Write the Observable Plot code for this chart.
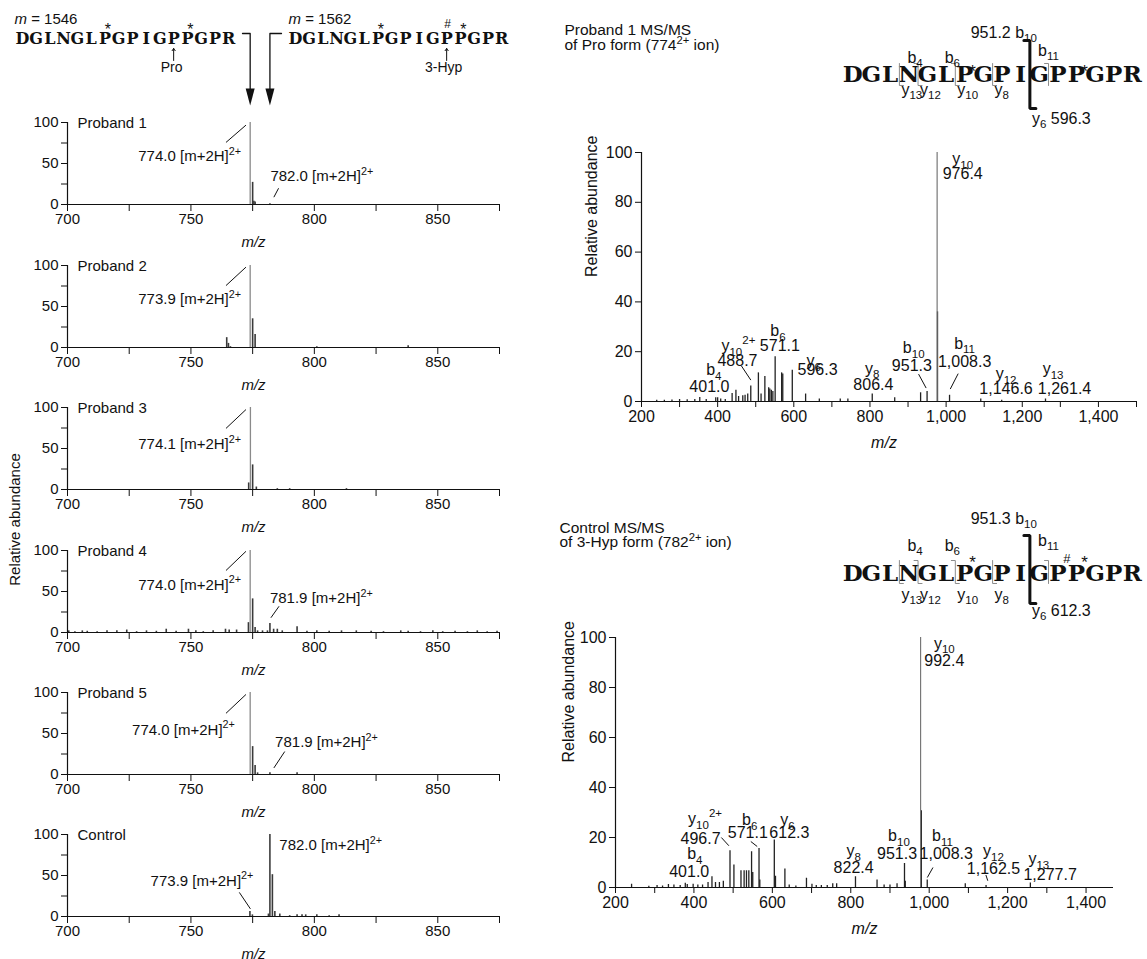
<!DOCTYPE html>
<html><head><meta charset="utf-8">
<script src="https://cdn.jsdelivr.net/npm/d3@7"></script>
<script src="https://cdn.jsdelivr.net/npm/@observablehq/plot@0.6"></script>
<style>
html,body{margin:0;padding:0;background:#fff;}
#fig{position:relative;width:1147px;height:959px;overflow:hidden;font-family:"Liberation Sans",Arial,sans-serif;}
#fig svg{position:absolute;overflow:visible;}
</style></head><body><div id="fig"></div>
<script>
// ================= DATA =================
const peptide = "DGLNGLPGPIGPPGPR".split("");
const hypSites = [6, 12];          // "*" hydroxyproline
const hyp3Site = 11;               // "#" 3-hydroxyproline / Pro site
const massPro = "1546", massHyp = "1562";
const siteLabels = ["Pro", "3-Hyp"];

const leftXTicks = [700, 725, 750, 775, 800, 825, 850, 875];
const leftXLabels = [700, 750, 800, 850];
const leftYTicks = [0, 25, 50, 75, 100];
const leftYLabels = [0, 50, 100];
const panelNames = ["Proband 1", "Proband 2", "Proband 3", "Proband 4", "Proband 5", "Control"];

const proband1Mz  = [774.0, 775.0, 775.5, 776.0, 782.0];
const proband1Int = [100, 27, 4, 3, 1];
const proband2Mz  = [764.5, 765.2, 766.0, 774.0, 775.0, 776.0, 801.0, 838.0];
const proband2Int = [12, 5, 1, 100, 35, 16, 1, 2];
const proband3Mz  = [773.4, 774.1, 775.0, 776.5, 785.0, 790.0, 813.0];
const proband3Int = [8, 100, 30, 3, 1, 1, 1];
const proband4Mz  = [700.5,703,706,708,712,716,720,724,728,732,736,740,744,749,752,755,759,764,765.5,768.5,773.3,774.0,775.0,776.0,777,779,781,782.0,783.5,785,787,793,797,801,806,811,817,823,828,835,838,843,848,852,857,862,866,870,874];
const proband4Int = [2,1,2,1.5,1,2,2,3,1,2,1.5,4,1.5,4,2,1,2,4,3,3,12,100,41,6,2,2,2,11,4,4,2,7,1.5,2,1.5,2,2,1.5,1,2,1.5,1,2,1,1.5,1,2,1,1.5];
const proband5Mz  = [774.0, 775.0, 776.0, 777.0, 782.0, 793.0];
const proband5Int = [100, 34, 11, 2, 2, 2];
const controlMz   = [773.9, 774.9, 781.4, 782.0, 783.0, 784.0, 786.0, 790.0, 793.0, 795.0, 796.5, 801.0, 806.0, 810.0];
const controlInt  = [6, 2, 3, 100, 51, 6, 3, 1, 2, 2, 2, 2, 1, 2];
const leftMz  = [proband1Mz, proband2Mz, proband3Mz, proband4Mz, proband5Mz, controlMz];
const leftInt = [proband1Int, proband2Int, proband3Int, proband4Int, proband5Int, controlInt];

// precursor labels: text, anchor point (m/z, %), leader line (m/z,% -> m/z,%)
const precursorLabels = [
  [{t:"774.0 [m+2H]^{2+}", x:770.3, y:59, a:"end", l:[764.2,75.7,772.3,96.8]},
   {t:"782.0 [m+2H]^{2+}", x:782.2, y:34, a:"start", l:[783.6,8.9,785.5,19.8]}],
  [{t:"773.9 [m+2H]^{2+}", x:770.3, y:59, a:"end", l:[764.2,75.5,772.3,98]}],
  [{t:"774.1 [m+2H]^{2+}", x:770.3, y:55, a:"end", l:[764.2,74.5,772.3,97.5]}],
  [{t:"774.0 [m+2H]^{2+}", x:770.3, y:58, a:"end", l:[764.2,75.6,772.3,99]},
   {t:"781.9 [m+2H]^{2+}", x:782.0, y:42, a:"start", l:[782.4,18,785.7,32]}],
  [{t:"774.0 [m+2H]^{2+}", x:767.8, y:54.4, a:"end", l:[764.2,74.6,772.3,97.6]},
   {t:"781.9 [m+2H]^{2+}", x:784.1, y:39.5, a:"start", l:[783.6,8,788,28]}],
  [{t:"782.0 [m+2H]^{2+}", x:785.8, y:86.7, a:"start"},
   {t:"773.9 [m+2H]^{2+}", x:775.3, y:43.5, a:"end", l:[769.6,29.4,774.1,9.3]}]
];

// MS/MS spectra
const ms1Mz  = [240,260,280,300,320,340,353,370,395,400,408,420,438,448,455,466,472,479,487,507,514,524,534,537,541,545,551,568,571,596,631,667,722,742,806,865,933,950,976.4,977.4,1009,1091,1146,1261];
const ms1Int = [0.5,0.5,0.6,0.8,0.7,0.8,1.6,0.8,1.5,1.5,1,0.8,3.2,4.5,2,2.3,2.5,3,6.2,11.5,3,10,5.5,5,4.5,4,18,11.5,11,12.6,3,1,1,1,3,1.5,3.5,4,100,36,2.5,1,0.5,1];
const ms2Mz  = [241,285,306,320,335,349,365,378,383,398,410,422,436,446,455,465,475,492,502,520,528,534,540,547,550,566,568,605,608,632,643,660,687,701,712,725,740,754,764,812,867,885,900,918,937,939,978,980,995,1092,1145,1258];
const ms2Int = [1.3,0.5,0.8,0.6,1.2,1,0.8,1.7,1.2,1.3,1,1,2,4.3,2,2,2.5,14.7,9,6.7,6.7,6.7,6.7,14.3,6,15.6,3,19,4.5,7.4,1,0.6,3.7,1.3,0.8,0.8,0.8,1.5,1.5,4.3,3,1,1,1.5,9.6,2.5,100,30.7,3,1.5,0.8,1.8];

const ms1Labels = [
  {t:"y_{10}",x:1043.6,y:97.3},{t:"976.4",x:1043.6,y:91.3},
  {t:"b_{6}",x:558.4,y:28.4},{t:"571.1",x:563.4,y:22.4},
  {t:"y_{10}^{2+}",x:454.5,y:22.4},{t:"488.7",x:452,y:16.3},
  {t:"b_{4}",x:390,y:12.6},{t:"401.0",x:378.2,y:5.9},
  {t:"y_{6}",x:652.5,y:16.3},{t:"596.3",x:662.4,y:12.6},
  {t:"y_{8}",x:806,y:13.3},{t:"806.4",x:809,y:6.6},
  {t:"b_{10}",x:914.9,y:21.4},{t:"951.3",x:910,y:14.3},
  {t:"b_{11}",x:1048.5,y:23.3},{t:"1,008.3",x:1048.5,y:16},
  {t:"y_{12}",x:1157.4,y:11},{t:"1,146.6",x:1157.4,y:5},
  {t:"y_{13}",x:1281,y:13},{t:"1,261.4",x:1311,y:5}
];
const ms1Leaders = [[462.4,14.3,487.1,8.6],[927.7,11,947.5,5.4],[1031.7,11.2,1010.9,5]];
const ms2Labels = [
  {t:"y_{10}",x:1038.6,y:97.6},{t:"992.4",x:1038.6,y:90.6},
  {t:"y_{10}^{2+}",x:428.4,y:27.4},{t:"496.7",x:416.9,y:19.4},
  {t:"b_{4}",x:402.4,y:13.4},{t:"401.0",x:388,y:6.4},
  {t:"b_{6}",x:542.2,y:27},{t:"571.1",x:537.3,y:21.7},
  {t:"y_{6}",x:638.6,y:27},{t:"612.3",x:643.4,y:22},
  {t:"y_{8}",x:807.2,y:14.7},{t:"822.4",x:807.2,y:8},
  {t:"b_{10}",x:922.9,y:20.7},{t:"951.3",x:918,y:13.4},
  {t:"b_{11}",x:1033.7,y:20.7},{t:"1,008.3",x:1043.4,y:13.4},
  {t:"y_{12}",x:1163.9,y:14.7},{t:"1,162.5",x:1163.9,y:7.4},
  {t:"y_{13}",x:1279.5,y:11.4},{t:"1,277.7",x:1308.4,y:5}
];
const ms2Leaders = [[469.9,20,489.2,16.7],[545.1,18.4,561.4,16.4],[1009.6,8,995.2,4],[1144.6,5,1149.4,2.7]];

const ms1Title = ["Proband 1 MS/MS", "of Pro form (774^{2+} ion)"];
const ms2Title = ["Control MS/MS", "of 3-Hyp form (782^{2+} ion)"];
const bIons = [{ion:"b_{4}", after:3}, {ion:"b_{6}", after:5}, {ion:"b_{11}", after:10}];
const yIons = [{ion:"y_{13}", after:2}, {ion:"y_{12}", after:3}, {ion:"y_{10}", after:5}, {ion:"y_{8}", after:7}];
const keyCut = 9;     // b10 / y6 cleavage
const ms1KeyIons = ["951.2 b_{10}", "y_{6} 596.3"];
const ms2KeyIons = ["951.3 b_{10}", "y_{6} 612.3"];

// ================= LAYOUT =================
const FONT = "'Liberation Sans', Arial, Helvetica, sans-serif";
const SERIF = "'DejaVu Serif', 'Liberation Serif', serif";
const baseStyle = {fontFamily: FONT, fontSize: "15px", color: "#111", background: "transparent", overflow: "visible"};
const rightStyle = {...baseStyle, fontSize: "16px"};
const fig = document.getElementById("fig");
function place(svg, left, top) { svg.style.left = left + "px"; svg.style.top = top + "px"; fig.appendChild(svg); return svg; }
const zero = () => 0;

const leftTops = [122, 265, 407, 549.5, 691.5, 833.5];
function leftPanel(k) {
  const peaks = leftMz[k].map((m, i) => ({mz: m, int: leftInt[k][i]}));
  const labs = precursorLabels[k];
  const mainColor = k === 5 ? "#111" : "#8a8a8a";
  return Plot.plot({
    width: 520, height: 157, marginLeft: 67, marginRight: 21, marginTop: 30, marginBottom: 45,
    style: baseStyle,
    x: {domain: [700, 875], ticks: leftXTicks, tickFormat: d => leftXLabels.includes(d) ? String(d) : "", tickSize: 7, tickPadding: 2, label: null},
    y: {domain: [0, 100], ticks: leftYTicks, tickFormat: d => leftYLabels.includes(d) ? String(d) : "", tickSize: 6, tickPadding: 3, label: null},
    marks: [
      Plot.ruleX(peaks.filter(d => d.int < 100), {x: "mz", y1: zero, y2: "int", stroke: "#3a3a3a", strokeWidth: 1.6}),
      Plot.ruleX(peaks.filter(d => d.int >= 100), {x: "mz", y1: zero, y2: "int", stroke: mainColor, strokeWidth: 1.3}),
      Plot.ruleX([700], {stroke: "#111", strokeWidth: 1.2}),
      Plot.ruleY([0], {stroke: "#111", strokeWidth: 1.2}),
      Plot.text([panelNames[k]], {text: d => d, frameAnchor: "top-left", dx: 10, dy: 1, lineAnchor: "middle", textAnchor: "start"}),
      Plot.text(["m/z"], {text: d => d, frameAnchor: "bottom", dx: -30, dy: 38, lineAnchor: "middle", fontStyle: "italic"}),
      Plot.text(labs.filter(d => d.a === "end"), {x: "x", y: "y", text: "t", textAnchor: "end", lineAnchor: "middle"}),
      Plot.text(labs.filter(d => d.a === "start"), {x: "x", y: "y", text: "t", textAnchor: "start", lineAnchor: "middle"}),
      Plot.link(labs.filter(d => d.l), {x1: d => d.l[0], y1: d => d.l[1], x2: d => d.l[2], y2: d => d.l[3], stroke: "#111", strokeWidth: 1})
    ]
  });
}

function rightPanel(mz, ints, labels, leaders, o) {
  const peaks = mz.map((m, i) => ({mz: m, int: ints[i]}));
  return Plot.plot({
    width: 592, height: o.height, marginLeft: o.mL, marginRight: o.mR, marginTop: 30, marginBottom: 50,
    style: rightStyle,
    x: {domain: o.domain, ticks: o.ticks, tickFormat: d => d % 200 === 0 && d <= 1400 ? d3.format(",")(d) : "", tickSize: 6, tickPadding: 3, label: null},
    y: {domain: [0, 100], ticks: [0, 20, 40, 60, 80, 100], tickSize: 6, tickPadding: 3, label: null},
    marks: [
      Plot.ruleX(peaks.filter(d => d.int < 100), {x: "mz", y1: zero, y2: "int", stroke: "#222", strokeWidth: 1.3}),
      Plot.ruleX(peaks.filter(d => d.int >= 100), {x: "mz", y1: zero, y2: "int", stroke: "#777", strokeWidth: 1.2}),
      Plot.ruleX([o.domain[0]], {stroke: "#111", strokeWidth: 1.2}),
      Plot.ruleY([0], {stroke: "#111", strokeWidth: 1.2}),
      Plot.text(labels, {x: "x", y: "y", text: "t", textAnchor: "middle", lineAnchor: "middle"}),
      Plot.link(leaders, {x1: d => d[0], y1: d => d[1], x2: d => d[2], y2: d => d[3], stroke: "#111", strokeWidth: 1}),
      Plot.text(["Relative abundance"], {text: d => d, frameAnchor: "left", dx: o.yLabDx, rotate: -90, lineAnchor: "middle"}),
      Plot.text(["m/z"], {text: d => d, frameAnchor: "bottom", dx: o.mzDx, dy: 41, lineAnchor: "middle", fontStyle: "italic"})
    ]
  });
}

// ---- draw panels ----
const leftPlots = panelNames.map((_, k) => place(leftPanel(k), 0, leftTops[k] - 30));
const r1 = place(rightPanel(ms1Mz, ms1Int, ms1Labels, ms1Leaders,
  {height: 329, mL: 86, mR: 11, domain: [200, 1500], ticks: d3.range(200, 1501, 100), yLabDx: -50, mzDx: -5}), 555, 122);
const r2 = place(rightPanel(ms2Mz, ms2Int, ms2Labels, ms2Leaders,
  {height: 330, mL: 60, mR: 34, domain: [200, 1470], ticks: d3.range(200, 1401, 100), yLabDx: -47, mzDx: 0}), 555, 607);

// ---- overlay: peptide headers, arrows, shared axis label ----
const p1x = leftPlots[0].scale("x");
const xOf = v => p1x.apply ? p1x.apply(v) : 67 + (v - 700) * (432 / 175);
const SEQL = {x0Pro: 21.9, x0Hyp: 294.9, step: 13.75, base: 43};
const SEQR = {x0: 852.3, step: 18.64};
const hdr = [
  {title: ms1Title, tx: 564, key: ms1KeyIons, hash: false, t1: 30, t2: 45, b10: 32, bLab: 57, b11: 50, mod: 76, hashY: 0, seq: 81, yLab: 89, y6: 118, brTop: 40, brBot: 108, smTop: 63, smBot: 85},
  {title: ms2Title, tx: 559, key: ms2KeyIons, hash: true, t1: 528, t2: 542, b10: 518, bLab: 545, b11: 540, mod: 567, hashY: 557, seq: 580, yLab: 594, y6: 610, brTop: 535, brBot: 603, smTop: 560, smBot: 583}
];

const ov = [];
// left header
const seqPro = peptide.map((c, i) => ({c, x: SEQL.x0Pro + i * SEQL.step, y: SEQL.base}));
const seqHyp = peptide.map((c, i) => ({c, x: SEQL.x0Hyp + i * SEQL.step, y: SEQL.base}));
ov.push(Plot.text([{t: "~{m} = " + massPro, x: 14, y: 19}, {t: "~{m} = " + massHyp, x: 288, y: 19}], {x: "x", y: "y", text: "t", textAnchor: "start", lineAnchor: "middle"}));
ov.push(Plot.text(seqPro.concat(seqHyp), {x: "x", y: "y", text: "c", fontFamily: SERIF, fontWeight: "bold", fontSize: 16, lineAnchor: "bottom", ariaLabel: "seqL"}));
const starsL = hypSites.map(i => ({x: SEQL.x0Pro + i * SEQL.step + 3})).concat(hypSites.map(i => ({x: SEQL.x0Hyp + i * SEQL.step + 3})));
ov.push(Plot.text(starsL, {x: "x", y: () => 34, text: () => "*", fontSize: 16, lineAnchor: "bottom"}));
ov.push(Plot.text([{x: SEQL.x0Hyp + hyp3Site * SEQL.step + 1}], {x: "x", y: () => 27, text: () => "#", fontSize: 12, lineAnchor: "bottom"}));
const siteX = [SEQL.x0Pro + hyp3Site * SEQL.step, SEQL.x0Hyp + hyp3Site * SEQL.step];
ov.push(Plot.arrow(siteX.map(x => ({x})), {x1: "x", x2: "x", y1: () => 60, y2: () => 48, headLength: 4, headAngle: 70, strokeWidth: 1, stroke: "#111"}));
ov.push(Plot.text(siteLabels.map((t, i) => ({t, x: siteX[i] - (i ? 3 : 2)})), {x: "x", y: () => 67, text: "t", lineAnchor: "middle", fontSize: 14}));
// big arrows to precursor peaks
const a1 = xOf(774.0), a2 = xOf(782.0);
const arrowPaths = [
  {z: 1, x: 242, y: 33}, {z: 1, x: a1, y: 33}, {z: 1, x: a1, y: 90},
  {z: 2, x: 281, y: 33}, {z: 2, x: a2, y: 33}, {z: 2, x: a2, y: 90}
];
ov.push(Plot.line(arrowPaths, {x: "x", y: "y", z: "z", stroke: "#111", strokeWidth: 1.3}));
const heads = [a1, a2].flatMap((x, k) => [{z: k, x: x - 4.5, y: 88}, {z: k, x: x + 4.5, y: 88}, {z: k, x, y: 105}]);
ov.push(Plot.line(heads, {x: "x", y: "y", z: "z", fill: "#111", stroke: "none"}));
// shared left y label
ov.push(Plot.text([{t: "Relative abundance", x: 15, y: 519}], {x: "x", y: "y", text: "t", rotate: -90, lineAnchor: "middle"}));

// right headers
const cutX = c => SEQR.x0 + (c + 0.5) * SEQR.step;
for (const h of hdr) {
  ov.push(Plot.text([{t: h.title[0], y: h.t1}, {t: h.title[1], y: h.t2}], {x: () => h.tx, y: "y", text: "t", textAnchor: "start", lineAnchor: "middle", fontSize: 15.5}));
  ov.push(Plot.text(peptide.map((c, i) => ({c, x: SEQR.x0 + i * SEQR.step})), {x: "x", y: () => h.seq, text: "c", fontFamily: SERIF, fontWeight: "bold", fontSize: 23, lineAnchor: "bottom", ariaLabel: "seqR"}));
  ov.push(Plot.text(hypSites.map(i => ({x: SEQR.x0 + i * SEQR.step + 8})), {x: "x", y: () => h.mod, text: () => "*", fontSize: 17, lineAnchor: "bottom"}));
  if (h.hash) ov.push(Plot.text([{x: SEQR.x0 + hyp3Site * SEQR.step + 9}], {x: "x", y: () => h.hashY + 5, text: () => "#", fontSize: 13, lineAnchor: "bottom"}));
  // small brackets
  const cuts = Array.from(new Set([...bIons.map(d => d.after), ...yIons.map(d => d.after)]));
  const pts = [];
  for (const c of cuts) {
    const x = cutX(c);
    if (bIons.some(d => d.after === c)) pts.push({z: c, x: x - 4, y: h.smTop});
    pts.push({z: c, x, y: h.smTop}, {z: c, x, y: h.smBot});
    if (yIons.some(d => d.after === c)) pts.push({z: c, x: x + 4, y: h.smBot});
  }
  ov.push(Plot.line(pts, {x: "x", y: "y", z: "z", stroke: "#8c8c8c", strokeWidth: 1}));
  const kx = cutX(keyCut);
  ov.push(Plot.line([{x: kx - 6, y: h.brTop}, {x: kx, y: h.brTop}, {x: kx, y: h.brBot}, {x: kx + 6, y: h.brBot}], {x: "x", y: "y", stroke: "#111", strokeWidth: 3, strokeLinejoin: "miter"}));
  ov.push(Plot.text(bIons.filter(d => d.after !== 10).map(d => ({t: d.ion, x: cutX(d.after) - 3})), {x: "x", y: () => h.bLab, text: "t", lineAnchor: "middle", fontSize: 16}));
  ov.push(Plot.text(bIons.filter(d => d.after === 10).map(d => ({t: d.ion, x: cutX(d.after)})), {x: "x", y: () => h.b11, text: "t", lineAnchor: "middle", fontSize: 16}));
  ov.push(Plot.text(yIons.map(d => ({t: d.ion, x: cutX(d.after) + 2})), {x: "x", y: () => h.yLab, text: "t", textAnchor: "start", lineAnchor: "middle", fontSize: 16}));
  ov.push(Plot.text([{t: h.key[0], x: kx + 7}], {x: "x", y: () => h.b10, text: "t", textAnchor: "end", lineAnchor: "middle", fontSize: 16}));
  ov.push(Plot.text([{t: h.key[1], x: kx + 2}], {x: "x", y: () => h.y6, text: "t", textAnchor: "start", lineAnchor: "middle", fontSize: 16}));
}

const overlay = Plot.plot({
  width: 1147, height: 959, margin: 0,
  x: {type: "identity", axis: null}, y: {type: "identity", axis: null},
  style: {...baseStyle, pointerEvents: "none"},
  marks: ov
});
place(overlay, 0, 0);

// ---- rich text: _{sub}, ^{sup}, ~{italic} ----
function richify(root) {
  const NS = "http://www.w3.org/2000/svg";
  root.querySelectorAll("text").forEach(t => {
    const s = t.textContent;
    if (!/[_^~]\{/.test(s) || t.querySelector("tspan")) return;
    const fs = parseFloat(getComputedStyle(t).fontSize) || 15;
    const parts = s.split(/([_^~]\{[^}]*\})/).filter(p => p);
    t.textContent = "";
    let shift = 0;
    for (const p of parts) {
      const ts = document.createElementNS(NS, "tspan");
      let target = 0, txt = p, small = false, ital = false;
      if (p.length > 2 && p[1] === "{" && "_^~".includes(p[0])) {
        txt = p.slice(2, -1);
        if (p[0] === "_") { target = 0.3 * fs; small = true; }
        else if (p[0] === "^") { target = -0.42 * fs; small = true; }
        else ital = true;
      }
      const d = target - shift; shift = target;
      if (d) ts.setAttribute("dy", d.toFixed(2));
      if (small) ts.setAttribute("font-size", (0.72 * fs).toFixed(1));
      if (ital) ts.setAttribute("font-style", "italic");
      ts.textContent = txt;
      t.appendChild(ts);
    }
  });
}
richify(fig);
// squeeze the serif peptide letters to a monospace-like width
function squeeze(label, maxW) {
  fig.querySelectorAll(`g[aria-label="${label}"] text`).forEach(t => {
    const w = t.getComputedTextLength();
    if (w > maxW) { t.setAttribute("textLength", maxW.toFixed(1)); t.setAttribute("lengthAdjust", "spacingAndGlyphs"); }
  });
}
squeeze("seqL", 11.5);
squeeze("seqR", 15.5);
</script>
</body></html>
